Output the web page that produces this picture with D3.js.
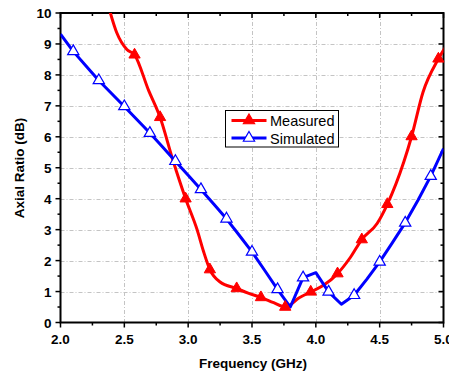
<!DOCTYPE html>
<html>
<head>
<meta charset="utf-8">
<script src="https://cdn.jsdelivr.net/npm/d3@7"></script>
<style>
  body { margin: 0; background: #fff; }
  text { font-family: "Liberation Sans", Arial, sans-serif; }
  .ticklabel { font-weight: bold; font-size: 13.5px; }
  .title { font-weight: bold; font-size: 13.5px; }
  .legendtext { font-size: 14.5px; }
</style>
</head>
<body>
<div id="chart"></div>
<script>
// measured curve (red) - markers on some points
var measuredFreq = [2.37, 2.44, 2.52, 2.58, 2.69, 2.78, 2.88, 2.98, 3.07, 3.12, 3.17, 3.25, 3.38, 3.47, 3.57, 3.67, 3.76, 3.87, 3.96, 4.06, 4.17, 4.27, 4.36, 4.48, 4.56, 4.69, 4.75, 4.84, 4.96, 5.03];
var measuredAR   = [10.3, 9.37, 8.82, 8.65, 7.5, 6.63, 5.25, 4.0, 3.0, 2.3, 1.71, 1.31, 1.10, 0.95, 0.81, 0.64, 0.50, 0.8, 0.99, 1.2, 1.58, 2.1, 2.68, 3.2, 3.82, 5.2, 6.01, 7.45, 8.52, 9.0];
var measuredMarks = [3, 5, 7, 10, 12, 14, 16, 18, 20, 22, 24, 26, 28];

// simulated curve (blue), 0.1 GHz steps, markers on odd tenths
var simFreq = [2.0, 2.1, 2.2, 2.3, 2.4, 2.5, 2.6, 2.7, 2.8, 2.9, 3.0, 3.1, 3.2, 3.3, 3.4, 3.5, 3.6, 3.7, 3.8, 3.9, 4.0, 4.1, 4.2, 4.3, 4.4, 4.5, 4.6, 4.7, 4.8, 4.9, 5.0];
var simAR   = [9.32, 8.76, 8.29, 7.82, 7.40, 6.98, 6.55, 6.12, 5.67, 5.21, 4.76, 4.30, 3.83, 3.35, 2.82, 2.28, 1.68, 1.07, 0.50, 1.45, 1.61, 0.99, 0.59, 0.88, 1.40, 1.96, 2.58, 3.22, 3.95, 4.73, 5.62];

var xTicks = [2.0, 2.5, 3.0, 3.5, 4.0, 4.5, 5.0];
var yTicks = [0, 1, 2, 3, 4, 5, 6, 7, 8, 9, 10];
var legendNames = ["Measured", "Simulated"];

var W = 449, H = 375;
var pLeft = 60.5, pRight = 443.5, pTop = 13, pBottom = 322.5;

var svg = d3.select("#chart").append("svg").attr("width", W).attr("height", H);

var x = d3.scaleLinear().domain([2, 5]).range([pLeft, pRight]);
var y = d3.scaleLinear().domain([0, 10]).range([pBottom, pTop]);

svg.append("defs").append("clipPath").attr("id", "clip")
  .append("rect").attr("x", pLeft).attr("y", pTop).attr("width", pRight - pLeft).attr("height", pBottom - pTop);

// grid
var grid = svg.append("g").attr("stroke", "#c4c4c4").attr("stroke-width", 1).attr("stroke-dasharray", "4,2,1,2");
grid.selectAll(".gx").data(xTicks.slice(1, -1)).enter().append("line")
  .attr("x1", function (d) { return Math.round(x(d)) + 0.5; }).attr("x2", function (d) { return Math.round(x(d)) + 0.5; })
  .attr("y1", pTop).attr("y2", pBottom);
grid.selectAll(".gy").data(yTicks.slice(1, -1)).enter().append("line")
  .attr("y1", function (d) { return Math.round(y(d)) + 0.5; }).attr("y2", function (d) { return Math.round(y(d)) + 0.5; })
  .attr("x1", pLeft).attr("x2", pRight);

// ticks: bottom/left outward, top/right inward
var xMinor = d3.range(2, 5.01, 0.25);
var yMinor = d3.range(0, 10.01, 0.5);
function isMajor(v, step) { return Math.abs(v / step - Math.round(v / step)) < 1e-6; }

var tk = svg.append("g").attr("stroke", "#000").attr("stroke-width", 1.5);
xMinor.forEach(function (v) {
  var len = isMajor(v, 0.5) ? 5 : 3;
  tk.append("line").attr("x1", x(v)).attr("x2", x(v)).attr("y1", pBottom).attr("y2", pBottom + len);
  tk.append("line").attr("x1", x(v)).attr("x2", x(v)).attr("y1", pTop).attr("y2", pTop + len);
});
yMinor.forEach(function (v) {
  var len = isMajor(v, 1) ? 5 : 3;
  tk.append("line").attr("y1", y(v)).attr("y2", y(v)).attr("x1", pLeft).attr("x2", pLeft - len);
  tk.append("line").attr("y1", y(v)).attr("y2", y(v)).attr("x1", pRight).attr("x2", pRight - len);
});

svg.append("rect").attr("x", pLeft).attr("y", pTop).attr("width", pRight - pLeft).attr("height", pBottom - pTop)
  .attr("fill", "none").attr("stroke", "#000").attr("stroke-width", 2);

svg.selectAll(".xl").data(xTicks).enter().append("text").attr("class", "ticklabel")
  .attr("x", function (d) { return x(d); }).attr("y", pBottom + 21)
  .attr("text-anchor", "middle").text(function (d) { return d.toFixed(1); });
svg.selectAll(".yl").data(yTicks).enter().append("text").attr("class", "ticklabel")
  .attr("x", pLeft - 9).attr("y", function (d) { return y(d) + 5; })
  .attr("text-anchor", "end").text(function (d) { return d; });

svg.append("text").attr("class", "title").attr("x", 253).attr("y", 368).attr("text-anchor", "middle").text("Frequency (GHz)");
svg.append("text").attr("class", "title").attr("transform", "translate(24,168) rotate(-90)").attr("text-anchor", "middle").text("Axial Ratio (dB)");

// curves
var measured = measuredFreq.map(function (f, i) { return [f, measuredAR[i]]; });
var simulated = simFreq.map(function (f, i) { return [f, simAR[i]]; });

var smooth = d3.line().x(function (d) { return x(d[0]); }).y(function (d) { return y(d[1]); }).curve(d3.curveMonotoneX);
var straight = d3.line().x(function (d) { return x(d[0]); }).y(function (d) { return y(d[1]); });

var plot = svg.append("g").attr("clip-path", "url(#clip)");
plot.append("path").datum(measured).attr("d", smooth).attr("fill", "none").attr("stroke", "#ff0000").attr("stroke-width", 3).attr("stroke-linejoin", "round");
plot.append("path").datum(simulated).attr("d", straight).attr("fill", "none").attr("stroke", "#0000ff").attr("stroke-width", 3).attr("stroke-linejoin", "round");

var tri = d3.symbol().type(d3.symbolTriangle).size(55);
svg.selectAll(".mm").data(measuredMarks.map(function (i) { return measured[i]; })).enter().append("path")
  .attr("d", tri).attr("transform", function (d) { return "translate(" + x(d[0]) + "," + y(d[1]) + ")"; })
  .attr("fill", "#ff0000").attr("stroke", "#ff0000").attr("stroke-width", 1);
svg.selectAll(".sm").data(simulated.filter(function (d, i) { return i % 2 === 1; })).enter().append("path")
  .attr("d", tri).attr("transform", function (d) { return "translate(" + x(d[0]) + "," + y(d[1]) + ")"; })
  .attr("fill", "#fff").attr("stroke", "#0000ff").attr("stroke-width", 1.2);

// legend
var lg = svg.append("g").attr("transform", "translate(225.5,110.5)");
lg.append("rect").attr("width", 113).attr("height", 36.5).attr("fill", "#fff").attr("stroke", "#000").attr("stroke-width", 1);
var colors = ["#ff0000", "#0000ff"];
legendNames.forEach(function (name, i) {
  var yy = 10 + i * 17.5;
  lg.append("line").attr("x1", 6).attr("x2", 41).attr("y1", yy).attr("y2", yy).attr("stroke", colors[i]).attr("stroke-width", 3);
  lg.append("path").attr("d", tri).attr("transform", "translate(23.5," + yy + ")")
    .attr("fill", i === 0 ? colors[i] : "#fff").attr("stroke", colors[i]).attr("stroke-width", 1.2);
  lg.append("text").attr("class", "legendtext").attr("x", 44.5).attr("y", yy + 5.5).text(name);
});
</script>
</body>
</html>
